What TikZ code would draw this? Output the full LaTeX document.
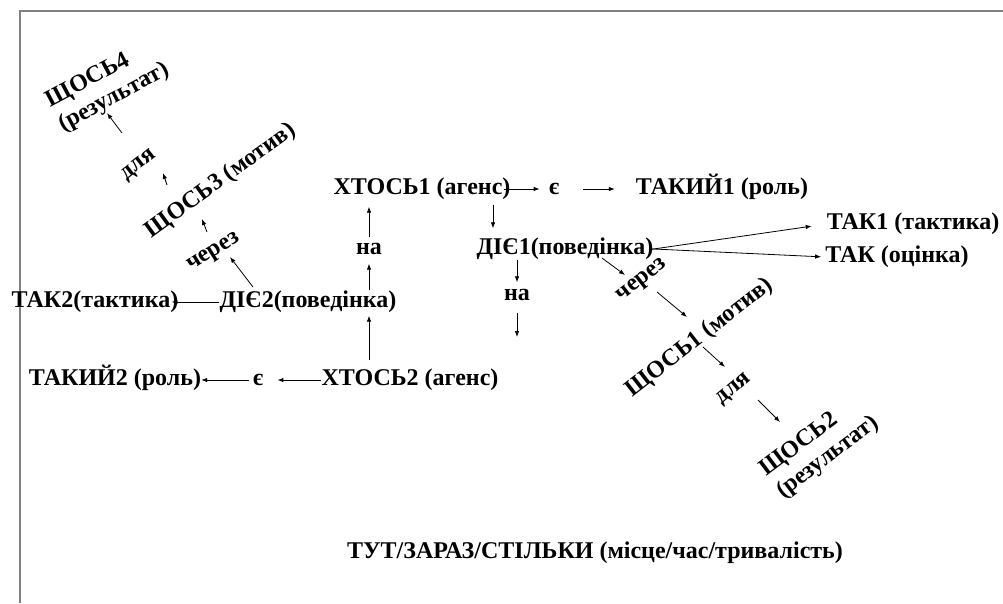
\documentclass[tikz,border=0pt]{standalone}
\usepackage{fontspec}
\setmainfont{Liberation Serif}
\usetikzlibrary{arrows.meta}

\tikzset{
  lbl/.style={font=\fontsize{24}{27}\selectfont\bfseries, inner sep=0pt, text height=16pt, text depth=5pt},
  lbltwo/.style={font=\fontsize{24}{27}\selectfont\bfseries, inner sep=0pt, align=left},
  arr/.style={-{Latex[length=6pt,width=4.5pt]}, line width=0.8pt},
}

\begin{document}
\begin{tikzpicture}[x=1pt, y=-1pt]
	\useasboundingbox (0,0) rectangle (1003,603);
	
	% rahmen
	\draw[black!50, line width=2pt] (1003,11) -- (20,11) -- (20,603);
	
	% XTOCb1 und DIE1
	\node[lbl] (xtos1) at (422,189) {ХТОСЬ1 (агенс)};
	\node[lbl] (ye1) at (554,189) {є};
	\node[lbl] (takyi1) at (722,189) {ТАКИЙ1 (роль)};
	\node[lbl] (die1) at (565,249) {ДІЄ1(поведінка)};
	\node[lbl] (na1) at (517,295) {на};
	\coordinate (naend) at (517,337);
	\node[lbl] (tak1) at (913,224) {ТАК1 (тактика)};
	\node[lbl] (takoc) at (897,257) {ТАК (оцінка)};
	\node[lbl, rotate=38] (cherez1) at (641,279) {через};
	\node[lbl, rotate=38] (shos1) at (700,338) {ЩОСЬ1 (мотив)};
	\node[lbl, rotate=40] (dlya1) at (733,388) {для};
	\node[lbltwo, rotate=37] (shos2) at (820,447) {ЩОСЬ2\\(результат)};
	
	% XTOCb2 und DIE2
	\node[lbl] (xtos2) at (410,380) {ХТОСЬ2 (агенс)};
	\node[lbl] (ye2) at (258,380) {є};
	\node[lbl] (takyi2) at (115,380) {ТАКИЙ2 (роль)};
	\node[lbl] (die2) at (308,302) {ДІЄ2(поведінка)};
	\node[lbl] (tak2) at (95,302) {ТАК2(тактика)};
	\node[lbl] (na2) at (369,249) {на};
	\node[lbl, rotate=32] (cherez2) at (213,251) {через};
	\node[lbl, rotate=36] (shos3) at (221,181) {ЩОСЬ3 (мотив)};
	\node[lbl, rotate=38] (dlya2) at (138,164) {для};
	\node[lbltwo, rotate=28] (shos4) at (108,86) {ЩОСЬ4\\(результат)};
	
	% ort/zeit
	\node[lbl] (tut) at (595,553) {ТУТ/ЗАРАЗ/СТІЛЬКИ (місце/час/тривалість)};
	
	% pfeile oben
	\draw[arr, shorten <=-7pt, shorten >=9pt] (xtos1.east) -- (ye1.west);
	\draw[arr, shorten <=24pt, shorten >=21pt] (ye1.east) -- (takyi1.west);
	\draw[arr, shorten <=5pt, shorten >=10pt] ([xshift=71pt]xtos1.south) -- ([xshift=-72pt]die1.north);
	\draw[arr, shorten >=2pt] (die1.south -| na1) -- (na1.north);
	\draw[arr, shorten <=7pt] (na1.south) -- (naend);
	\draw[arr, shorten <=-3pt, shorten >=15pt] (die1.east) -- (tak1.west);
	\draw[arr, shorten <=-3pt, shorten >=4pt] (die1.east) -- (takoc.west);
	\draw[arr] ([shift={(37,9)}]die1.center) -- ([shift={(-16,-4)}]cherez1.center);
	\draw[arr] ([shift={(16,13)}]cherez1.center) -- ([shift={(-13,-21)}]shos1.center);
	\draw[arr] ([shift={(3,9)}]shos1.center) -- ([shift={(-8,-21)}]dlya1.center);
	\draw[arr] ([shift={(25,12)}]dlya1.center) -- ([shift={(-40,-25)}]shos2.center);
	
	% pfeile unten
	\draw[arr, shorten <=9pt, shorten >=3pt] (xtos2.north -| na2) -- (die2.south -| na2);
	\draw[arr, shorten <=1pt, shorten >=4pt] (die2.north -| na2) -- (na2.south);
	\draw[arr, shorten <=1pt, shorten >=7pt] (na2.north) -- (xtos1.south -| na2);
	\draw[arr, shorten >=-7pt] (die2.west) -- (tak2.east);
	\draw[arr] ([shift={(-55,-15)}]die2.center) -- ([shift={(17,6)}]cherez2.center);
	\draw[arr] ([shift={(-6,-19)}]cherez2.center) -- ([shift={(-19,38)}]shos3.center);
	\draw[arr] ([shift={(-54,4)}]shos3.center) -- ([shift={(25,9)}]dlya2.center);
	\draw[arr] ([shift={(-16,-31)}]dlya2.center) -- ([shift={(-1,27)}]shos4.center);
	\draw[arr, shorten >=14pt] (xtos2.west) -- (ye2.east);
	\draw[arr, shorten <=4pt] (ye2.west) -- (takyi2.east);
	
\end{tikzpicture}
\end{document}
